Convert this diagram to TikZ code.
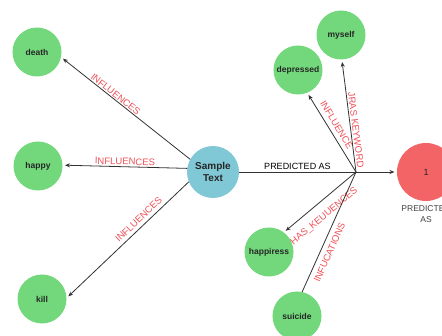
\documentclass[tikz,border=0pt]{standalone}
\usepackage{fontspec}
\setmainfont{Liberation Sans}
\usetikzlibrary{arrows.meta,positioning}
\definecolor{termgreen}{HTML}{72D87B}
\definecolor{textblue}{HTML}{80C8D6}
\definecolor{classred}{HTML}{F26465}
\definecolor{relred}{HTML}{EF5157}
\definecolor{linkgray}{gray}{0.2}

\begin{document}
\begin{tikzpicture}[
  x=1pt, y=-1pt,
  term/.style={circle, fill=termgreen, minimum size=49pt, inner sep=0pt, outer sep=0pt,
    font=\bfseries\fontsize{8.5}{10}\selectfont, text=black!85},
  sample/.style={term, fill=textblue, minimum size=52pt, align=center,
    font=\bfseries\fontsize{10}{11.5}\selectfont},
  cls/.style={term, fill=classred, minimum size=58pt, font=\fontsize{9}{10}\selectfont},
  rel/.style={draw=linkgray, line width=0.8pt, shorten >=2.5pt,
    -{Stealth[length=5pt,width=4pt]}},
  link/.style={draw=linkgray, line width=0.8pt},
  lbl/.style={font=\fontsize{9.5}{10}\selectfont, text=relred, sloped, inner sep=1pt}
]
  \useasboundingbox[fill=white] (0,0) rectangle (442,336);

  % left side: words
  \node[term] (death) at (37,52) {death};
  \node[term] (happy) at (38,166) {happy};
  \node[term] (kill) at (42,299) {kill};
  \node[sample] (sample) at (213,172) {Sample\\Text};

  % right side: prediction
  \coordinate (hub) at (356,172);
  \node[term] (myself) at (341,35) {myself};
  \node[term] (depressed) at (298,70) {depressed};
  \node[term] (happiress) at (269,252) {happiress};
  \node[term] (suicide) at (297,316) {suicide};
  \node[cls, label={[align=center, text=black!75, inner sep=1pt, label distance=3pt,
      font=\fontsize{8.5}{11}\selectfont]below:{PREDICTED\\AS}}] (one) at (426,172) {1};

  % influences
  \draw[rel] (sample.151) -- (death.-12)
    node[lbl, pos=0.6, above] {INFLUENCES};
  \draw[rel] (sample.172) -- (happy.2)
    node[lbl, pos=0.5, above, inner sep=1.5pt] {INFLUENCES};
  \draw[rel] (sample.202) -- (kill.2)
    node[lbl, pos=0.37, above, inner sep=3.5pt] {INFLUENCES};

  % predicted as
  \draw[link] (sample.east) -- (hub)
    node[midway, above, inner sep=2.5pt, font=\fontsize{9}{10}\selectfont] {PREDICTED AS};
  \draw[rel] (hub) -- (one.west);

  % keywords
  \draw[rel] (hub) -- (depressed.-68)
    node[lbl, pos=0.54, above, inner sep=4.5pt] {INFLUENCE};
  \draw[rel] (hub) -- (myself.-88)
    node[lbl, pos=0.37, above, inner sep=1.5pt] {JRAS KEYWORD};
  \draw[rel] (hub) -- (happiress.53)
    node[lbl, pos=0.56, below, inner sep=9pt] {HAS\_KEUUENCES};
  \draw[link] (suicide.78) -- (hub)
    node[lbl, pos=0.36, below, inner sep=5pt] {INFUCATIONS};
\end{tikzpicture}
\end{document}
